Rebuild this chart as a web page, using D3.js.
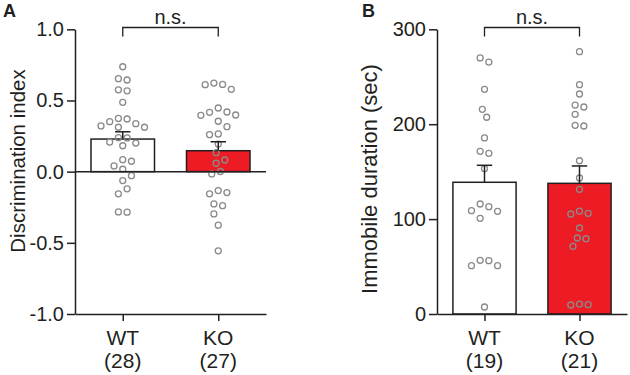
<!DOCTYPE html>
<html>
<head>
<meta charset="utf-8">
<script src="https://cdn.jsdelivr.net/npm/d3@7/dist/d3.min.js"></script>
<style>
	body { margin: 0; background: #fff; }
	svg { display: block; font-family: "Liberation Sans", Arial, sans-serif; }
	.axis path, .axis line { stroke: #231f20; stroke-width: 1.5; }
	.axis text { fill: #231f20; font-size: 20px; }
</style>
</head>
<body>
<svg width="630" height="375"></svg>
<script>
	var groups = ["WT", "KO"];

	// panel A: discrimination index
	var discWT = [0.737, 0.644, 0.653, 0.575, 0.568, 0.487, 0.351, 0.374, 0.370, 0.321, 0.312, 0.312, 0.337,
		0.237, 0.239, 0.201, 0.182, 0.208, 0.084, 0.073, 0.040, 0.017, -0.028, -0.063, -0.121, -0.156, -0.285, -0.283];
	var discKO = [0.613, 0.578, 0.611, 0.622, 0.419, 0.398, 0.417, 0.396, 0.447, 0.354, 0.316, 0.265, 0.260,
		0.194, 0.133, 0.082, 0.059, 0.001, -0.016, -0.133, -0.156, -0.147, -0.227, -0.239, -0.297, -0.376, -0.556];
	var discMean = [0.229, 0.147],
		discSem = [0.051, 0.063],
		discTicks = [-1, -0.5, 0, 0.5, 1];

	// panel B: immobile duration
	var immWT = [269.8, 265.5, 236.8, 215.7, 207.3, 185.5, 171.4, 169.3, 153.1, 115.9, 113.1, 108.9, 108.2,
		100.8, 56.6, 50.9, 50.9, 56.2, 7.4];
	var immKO = [276.4, 241.6, 231.8, 220.2, 218.1, 210.4, 198.8, 198.1, 161.5, 143.3, 131.4, 106.1, 105.4,
		108.5, 90.6, 79.3, 80.1, 71.3, 10.5, 9.5, 9.8];
	var immMean = [138.8, 137.7],
		immSem = [17.9, 18.3],
		immTicks = [0, 100, 200, 300];

	var svg = d3.select("svg"),
		ink = "#231f20",
		barColors = ["#ffffff", "#ed1c24"],
		dotStep = 8.7,
		dotDist = 8.5;

	// greedy column scatter, then centre every cluster of touching dots
	function swarm(values, y) {
		var h = dotStep / 2,
			order = d3.range(values.length).sort(function (a, b) { return values[b] - values[a]; }),
			placed = [],
			dx = new Array(values.length);

		order.forEach(function (i) {
			var py = y(values[i]),
				near = placed.filter(function (p) { return Math.abs(p.py - py) < dotDist; }),
				bias = d3.sum(near, function (p) { return p.dx; }),
				best = null;
			for (var k = 0; k < 40 && best === null; k++) {
				var cands = k === 0 ? [0] : (bias > 0 ? [-k * h, k * h] : [k * h, -k * h]);
				for (var c = 0; c < cands.length; c++) {
					var ok = near.every(function (p) {
						return Math.hypot(p.dx - cands[c], p.py - py) >= dotDist;
					});
					if (ok) { best = cands[c]; break; }
				}
			}
			dx[i] = best;
			placed.push({ i: i, py: py, dx: best });
		});

		// clusters: chains of dots closer than dotDist vertically
		var sorted = placed.slice().sort(function (a, b) { return a.py - b.py; }),
			cluster = [];
		function flush() {
			if (!cluster.length) return;
			var shift = -(d3.min(cluster, function (p) { return p.dx; }) + d3.max(cluster, function (p) { return p.dx; })) / 2;
			cluster.forEach(function (p) { dx[p.i] += shift; });
			cluster = [];
		}
		sorted.forEach(function (p, j) {
			if (j > 0 && p.py - sorted[j - 1].py >= dotDist) flush();
			cluster.push(p);
		});
		flush();
		return dx;
	}

	function panel(o) {
		var g = svg.append("g");

		var x = d3.scalePoint().domain(groups).range(o.xRange).padding(0.5),
			y = d3.scaleLinear().domain(o.domain).range([314, 29.3]),
			barW = x.step() * 0.665;

		// bars
		g.selectAll("rect.bar")
			.data(groups)
			.enter()
			.append("rect")
			.attr("class", "bar")
			.attr("x", function (d) { return x(d) - barW / 2; })
			.attr("y", function (d, i) { return Math.min(y(o.mean[i]), y(o.base)); })
			.attr("width", barW)
			.attr("height", function (d, i) { return Math.abs(y(o.base) - y(o.mean[i])); })
			.attr("fill", function (d, i) { return barColors[i]; })
			.attr("stroke", ink)
			.attr("stroke-width", 1.5);

		// dots
		o.values.forEach(function (vals, gi) {
			var off = swarm(vals, y);
			g.append("g").selectAll("circle")
				.data(vals)
				.enter()
				.append("circle")
				.attr("cx", function (d, i) { return x(groups[gi]) + off[i]; })
				.attr("cy", function (d) { return y(d); })
				.attr("r", 3)
				.attr("fill", "none")
				.attr("stroke", "#8a8a8a")
				.attr("stroke-width", 1.3);
		});

		// error bars (upper SEM only)
		var err = g.selectAll("g.err")
			.data(groups)
			.enter()
			.append("g")
			.attr("class", "err")
			.attr("stroke", ink)
			.attr("stroke-width", 1.5);
		err.append("line")
			.attr("x1", function (d) { return x(d); })
			.attr("x2", function (d) { return x(d); })
			.attr("y1", function (d, i) { return y(o.mean[i]); })
			.attr("y2", function (d, i) { return y(o.mean[i] + o.sem[i]); });
		err.append("line")
			.attr("x1", function (d) { return x(d) - 7.7; })
			.attr("x2", function (d) { return x(d) + 7.7; })
			.attr("y1", function (d, i) { return y(o.mean[i] + o.sem[i]); })
			.attr("y2", function (d, i) { return y(o.mean[i] + o.sem[i]); });

		// zero line across the plot when the axis goes negative
		if (o.domain[0] < 0) {
			g.append("line")
				.attr("x1", o.xRange[0])
				.attr("x2", o.xRange[1])
				.attr("y1", y(0))
				.attr("y2", y(0))
				.attr("stroke", ink)
				.attr("stroke-width", 1.5);
		}

		// axes
		g.append("g")
			.attr("class", "axis")
			.attr("transform", "translate(" + o.xRange[0] + ",0)")
			.call(d3.axisLeft(y).tickValues(o.ticks).tickFormat(o.fmt).tickSize(8).tickSizeOuter(0).tickPadding(3));

		g.append("g")
			.attr("class", "axis")
			.attr("transform", "translate(0,314)")
			.call(d3.axisBottom(x).tickSize(7).tickSizeOuter(0).tickFormat(""));

		var lab = g.selectAll("text.xl")
			.data(groups)
			.enter()
			.append("text")
			.attr("class", "xl")
			.attr("text-anchor", "middle")
			.attr("fill", ink)
			.style("font-size", "21px");
		lab.append("tspan")
			.attr("x", function (d) { return x(d); })
			.attr("y", 345)
			.text(function (d) { return d; });
		lab.append("tspan")
			.attr("x", function (d) { return x(d); })
			.attr("y", 368)
			.text(function (d, i) { return "(" + o.values[i].length + ")"; });

		// y title
		g.append("text")
			.attr("transform", "translate(" + o.titleX + "," + o.titleY + ") rotate(-90)")
			.attr("text-anchor", "middle")
			.attr("fill", ink)
			.style("font-size", o.titleSize + "px")
			.text(o.title);

		// significance bracket
		var bx0 = x(groups[0]), bx1 = x(groups[1]);
		g.append("path")
			.attr("d", "M" + bx0 + ",36.5V27.5H" + bx1 + "V36.5")
			.attr("fill", "none")
			.attr("stroke", ink)
			.attr("stroke-width", 1.3);
		g.append("text")
			.attr("x", (bx0 + bx1) / 2)
			.attr("y", 24)
			.attr("text-anchor", "middle")
			.attr("fill", ink)
			.style("font-size", "20px")
			.text("n.s.");

		// panel letter
		g.append("text")
			.attr("x", o.letterX)
			.attr("y", 17)
			.attr("fill", ink)
			.style("font-size", "18px")
			.style("font-weight", "bold")
			.text(o.letter);
	}

	panel({
		letter: "A", letterX: 3,
		xRange: [75, 266],
		domain: [-1, 1], base: 0, ticks: discTicks,
		fmt: function (d) { return d.toFixed(1); },
		values: [discWT, discKO], mean: discMean, sem: discSem,
		title: "Discrimination index", titleX: 25, titleY: 161, titleSize: 20.5
	});

	panel({
		letter: "B", letterX: 362,
		xRange: [437, 627],
		domain: [0, 300], base: 0, ticks: immTicks,
		fmt: function (d) { return d; },
		values: [immWT, immKO], mean: immMean, sem: immSem,
		title: "Immobile duration (sec)", titleX: 377, titleY: 179, titleSize: 22
	});
</script>
</body>
</html>
